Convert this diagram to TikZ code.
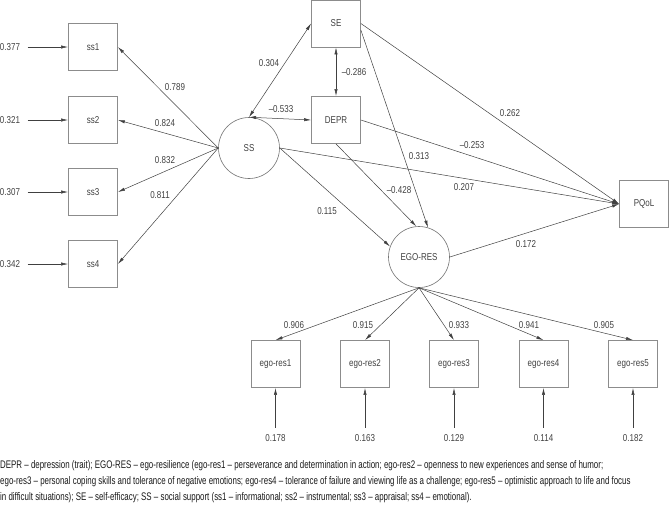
\documentclass[tikz,border=0pt]{standalone}
\usepackage{fontspec}
\setmainfont{Liberation Sans}[FakeStretch=0.8]
\newfontfamily\notefont{Liberation Sans}[FakeStretch=0.72, Ligatures=TeX]
\usetikzlibrary{arrows.meta}

\tikzset{
  obsbox/.style={draw=black!45, line width=0.8pt, minimum width=49pt, minimum height=47pt, inner sep=0pt},
  latent/.style={circle, draw=black!55, line width=0.6pt, minimum size=61pt, inner sep=0pt},
  path/.style={draw=black!75, line width=0.5pt, -{Latex[length=7pt,width=3.2pt]}},
  cov/.style={path, {Latex[length=7pt,width=3.2pt]}-{Latex[length=7pt,width=3.2pt]}},
  coef/.style={inner sep=1pt},
}

\begin{document}
\begin{tikzpicture}[x=1pt, y=-1pt, font=\fontsize{10}{12}\selectfont, text=black!75]
\useasboundingbox (0,0) rectangle (669,507);

% social support
\node[latent] (SS) at (249,148) {SS};
\node[obsbox] (ss1) at (93,47) {ss1};
\node[obsbox] (ss2) at (93,120) {ss2};
\node[obsbox] (ss3) at (93,192) {ss3};
\node[obsbox] (ss4) at (93,264) {ss4};
\node (e1) at (10,47) {0.377};
\node (e2) at (10,120) {0.321};
\node (e3) at (10,192) {0.307};
\node (e4) at (10,264) {0.342};

% predictors and outcome
\node[obsbox] (SE) at (336,23.5) {SE};
\node[obsbox] (DEPR) at (336,120) {DEPR};
\node[obsbox] (PQoL) at (644,204) {PQoL};

% ego-resilience
\node[latent] (EGO) at (419,257) {EGO-RES};
\node[obsbox] (er1) at (275.5,364) {ego-res1};
\node[obsbox] (er2) at (365,364) {ego-res2};
\node[obsbox] (er3) at (454,364) {ego-res3};
\node[obsbox] (er4) at (543.5,364) {ego-res4};
\node[obsbox] (er5) at (633,364) {ego-res5};
\node (r1) at (275.5,438) {0.178};
\node (r2) at (365,438) {0.163};
\node (r3) at (454,438) {0.129};
\node (r4) at (543.5,438) {0.114};
\node (r5) at (633,438) {0.182};

% error terms
\draw[path, shorten <=4pt] (e1) -- (ss1);
\draw[path, shorten <=4pt] (e2) -- (ss2);
\draw[path, shorten <=4pt] (e3) -- (ss3);
\draw[path, shorten <=4pt] (e4) -- (ss4);
\draw[path, shorten <=3pt] (r1) -- (er1);
\draw[path, shorten <=3pt] (r2) -- (er2);
\draw[path, shorten <=3pt] (r3) -- (er3);
\draw[path, shorten <=3pt] (r4) -- (er4);
\draw[path, shorten <=3pt] (r5) -- (er5);

% loadings
\draw[path] (SS.west) -- (ss1.east);
\draw[path] (SS.west) -- (ss2.east);
\draw[path] (SS.west) -- (ss3.east);
\draw[path] (SS.west) -- (ss4.east);
\draw[path] (EGO.south) -- (er1.north);
\draw[path] (EGO.south) -- (er2.north);
\draw[path] (EGO.south) -- (er3.north);
\draw[path] (EGO.south) -- (er4.north);
\draw[path] (EGO.south) -- (er5.north);

% structural paths
\draw[cov] (SS.north) -- (SE.west);
\draw[cov] (SS.north) -- (DEPR.west);
\draw[cov] (SE) -- (DEPR);
\draw[path] (SE.east) -- (PQoL.west);
\draw[path] (DEPR.east) -- (PQoL.west);
\draw[path] (SS.east) -- (PQoL.west);
\draw[path] (EGO.east) -- (PQoL.west);
\draw[path] (SE.-15) -- (EGO.73);
\draw[path] (DEPR.south) -- (EGO.95);
\draw[path] (SS.east) -- (EGO.160);

% coefficients
\node[coef] (c1) at (175,87) {0.789};
\node[coef] (c2) at (165,123) {0.824};
\node[coef] (c3) at (165,160) {0.832};
\node[coef] (c4) at (160,195) {0.811};
\node[coef] (c5) at (269,63) {0.304};
\node[coef] (c6) at (281,109) {--0.533};
\node[coef] (c7) at (354,72) {--0.286};
\node[coef] (c8) at (510,113) {0.262};
\node[coef] (c9) at (472,145) {--0.253};
\node[coef] (c10) at (419,156) {0.313};
\node[coef] (c11) at (464,187) {0.207};
\node[coef] (c12) at (399,190) {--0.428};
\node[coef] (c13) at (327,211) {0.115};
\node[coef] (c14) at (526,244) {0.172};
\node[coef] (c15) at (294,325) {0.906};
\node[coef] (c16) at (363,325) {0.915};
\node[coef] (c17) at (459,325) {0.933};
\node[coef] (c18) at (529,325) {0.941};
\node[coef] (c19) at (604,325) {0.905};

% legend
\node[anchor=north west, align=left, inner sep=0pt, font=\notefont\fontsize{11}{16}\selectfont, text=black!90] (note) at (0,460)
  {DEPR -- depression (trait); EGO-RES -- ego-resilience (ego-res1 -- perseverance and determination in action; ego-res2 -- openness to new experiences and sense of humor;\\
   ego-res3 -- personal coping skills and tolerance of negative emotions; ego-res4 -- tolerance of failure and viewing life as a challenge; ego-res5 -- optimistic approach to life and focus\\
   in difficult situations); SE -- self-efficacy; SS -- social support (ss1 -- informational; ss2 -- instrumental; ss3 -- appraisal; ss4 -- emotional).};
\end{tikzpicture}
\end{document}
